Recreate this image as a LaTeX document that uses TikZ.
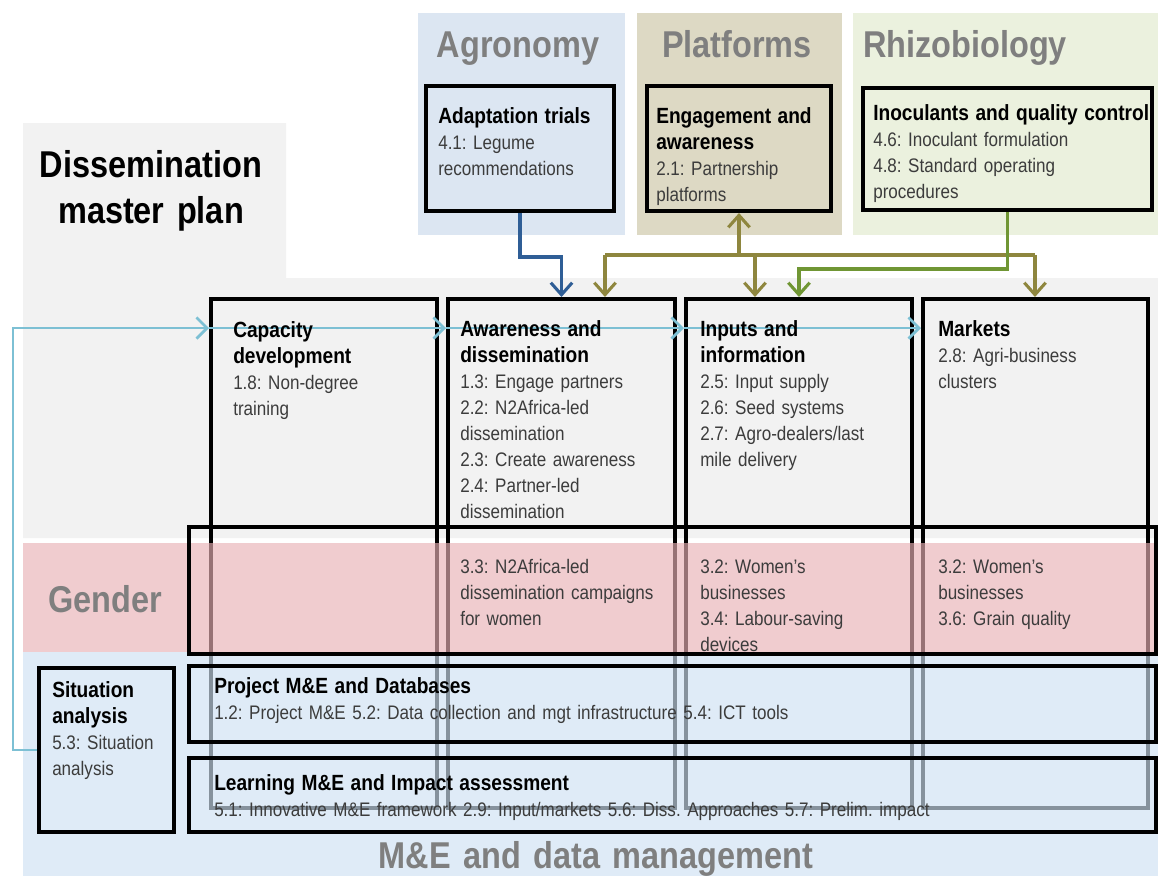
\documentclass[tikz,border=0pt]{standalone}
\usepackage{fontspec}
\setmainfont{Liberation Sans}[FakeStretch=0.87]
\usepackage{xcolor}
\usepackage{tikz}
\usetikzlibrary{arrows.meta}
\usetikzlibrary{fit}
\frenchspacing

\definecolor{planGray}{RGB}{242,242,242}
\definecolor{agroBlue}{RGB}{220,230,242}
\definecolor{platTan}{RGB}{221,217,196}
\definecolor{rhizoGreen}{RGB}{235,241,222}
\definecolor{genderPink}{RGB}{232,176,181}
\definecolor{meBlue}{RGB}{206,225,242}
\definecolor{loopBlue}{RGB}{125,192,212}
\definecolor{agroArrow}{RGB}{47,94,150}
\definecolor{platArrow}{RGB}{142,134,62}
\definecolor{rhizoArrow}{RGB}{112,150,52}
\definecolor{titleGray}{RGB}{127,127,127}
\definecolor{bodyGray}{RGB}{60,60,60}

\newcommand{\hd}[1]{{\fontsize{16.5}{19.5}\selectfont\bfseries\color{black}#1}}

\begin{document}
\begin{tikzpicture}[x=0.75pt, y=-0.75pt,
    box/.style={draw=black, line width=3pt, inner sep=0pt},
    title/.style={text=titleGray, font=\fontsize{28}{34.5}\selectfont\bfseries,
      inner sep=0pt, text width=400pt, align=center, anchor=base},
    txt/.style={text=bodyGray, font=\fontsize{14.7}{19.5}\selectfont,
      inner sep=0pt, text width=300pt, align=left, anchor=base west},
    wide/.style={text width=700pt},
    tip/.style={Straight Barb[length=9pt,width=16pt]},
    agroArr/.style={draw=agroArrow, line width=2.3pt, -{Straight Barb[length=9pt,width=16pt]}},
    platArr/.style={draw=platArrow, line width=2.3pt},
    rhizoArr/.style={draw=rhizoArrow, line width=2.3pt, -{Straight Barb[length=9pt,width=16pt]}},
    loopArr/.style={draw=loopBlue, line width=2pt, -{Straight Barb[length=8pt,width=16pt]}}]
  \useasboundingbox (0,0) rectangle (1158,876);

  % backgrounds
  \fill[planGray] (23,123) -- (286,123) -- (286,278) -- (1158,278) -- (1158,538) -- (23,538) -- cycle;
  \fill[agroBlue] (418,13) rectangle (625,235);
  \fill[platTan] (637,13) rectangle (842,235);
  \fill[rhizoGreen] (853,13) rectangle (1158,235);

  % top boxes
  \node[box, fit={(426,86) (614,211)}] (adapt) {};
  \node[box, fit={(647,86) (831,211)}] (engage) {};
  \node[box, fit={(863,88) (1152,210)}] (inoc) {};

  % columns
  \node[box, fit={(211,299) (437,808)}] (cap) {};
  \node[box, fit={(448,299) (675,808)}] (aware) {};
  \node[box, fit={(686,299) (912,808)}] (inputs) {};
  \node[box, fit={(923,299) (1148,808)}] (markets) {};

  % links from the top
  \coordinate (platL) at (605,255);
  \coordinate (platM) at (755,255);
  \coordinate (platR) at (1035,255);
  \draw[agroArr] (adapt.south) -- ++(0,44) -| (aware.north);
  \draw[platArr] (platL) -- (platR);
  \draw[platArr, {Straight Barb[length=9pt,width=16pt]}-] (engage.south) -- (engage.south |- platL);
  \draw[platArr, -{Straight Barb[length=9pt,width=16pt]}] (platL) -- (platL |- aware.north);
  \draw[platArr, -{Straight Barb[length=9pt,width=16pt]}] (platM) -- (platM |- inputs.north);
  \draw[platArr, -{Straight Barb[length=9pt,width=16pt]}] (platR) -- (platR |- markets.north);
  \draw[rhizoArr] (inoc.south) -- ++(0,57) -| (inputs.north);

  % bands
  \fill[genderPink, fill opacity=0.65] (23,543) rectangle (1158,652);
  \fill[meBlue, fill opacity=0.65] (23,652) rectangle (1158,876);

  \node[box, fit={(189,527) (1156,654)}] (gbox) {};
  \node[box, fit={(189,666) (1156,742)}] (proj) {};
  \node[box, fit={(189,758) (1156,832)}] (learn) {};
  \node[box, fit={(39,668) (174,832)}] (sit) {};

  % feedback loop
  \coordinate (loopTop) at (13,328);
  \draw[loopArr] (sit.west) -| (loopTop) -- (loopTop -| cap.west);
  \draw[loopArr] (loopTop -| cap.west) -- (loopTop -| aware.west);
  \draw[loopArr] (loopTop -| aware.west) -- (loopTop -| inputs.west);
  \draw[loopArr] (loopTop -| inputs.west) -- (loopTop -| markets.west);

  % titles
  \node[title, text=black] (planT) at (151,177) {Dissemination\\master plan};
  \node[title] (agroT) at (518,57) {Agronomy};
  \node[title] (platT) at (737,57) {Platforms};
  \node[title] (rhizoT) at (965,57) {Rhizobiology};
  \node[title] (genderT) at (105,612) {Gender};
  \node[title] (meT) at (596,868) {M\&E and data management};

  % texts
  \node[txt] (adaptT) at (438,123) {\hd{Adaptation trials}\\4.1: Legume\\recommendations};
  \node[txt] (engageT) at (656,123) {\hd{Engagement and}\\\hd{awareness}\\2.1: Partnership\\platforms};
  \node[txt] (inocT) at (873,120) {\hd{Inoculants and quality control}\\4.6: Inoculant formulation\\4.8: Standard operating\\procedures};

  \node[txt] (capT) at (233,337) {\hd{Capacity}\\\hd{development}\\1.8: Non-degree\\training};
  \node[txt] (awareT) at (460,336) {\hd{Awareness and}\\\hd{dissemination}\\1.3: Engage partners\\2.2: N2Africa-led\\dissemination\\2.3: Create awareness\\2.4: Partner-led\\dissemination};
  \node[txt] (inputsT) at (700,336) {\hd{Inputs and}\\\hd{information}\\2.5: Input supply\\2.6: Seed systems\\2.7: Agro-dealers/last\\mile delivery};
  \node[txt] (marketsT) at (938,336) {\hd{Markets}\\2.8: Agri-business\\clusters};

  \node[txt] (gAwareT) at (460,573) {3.3: N2Africa-led\\dissemination campaigns\\for women};
  \node[txt] (gInputsT) at (700,573) {3.2: Women’s\\businesses\\3.4: Labour-saving\\devices};
  \node[txt] (gMarketsT) at (938,573) {3.2: Women’s\\businesses\\3.6: Grain quality};

  \node[txt] (sitT) at (52,697) {\hd{Situation}\\\hd{analysis}\\5.3: Situation\\analysis};
  \node[txt, wide] (projT) at (214,693) {\hd{Project M\&E and Databases}\\1.2: Project M\&E 5.2: Data collection and mgt infrastructure 5.4: ICT tools};
  \node[txt, wide] (learnT) at (214,790) {\hd{Learning M\&E and Impact assessment}\\5.1: Innovative M\&E framework 2.9: Input/markets 5.6: Diss. Approaches 5.7: Prelim. impact};
\end{tikzpicture}
\end{document}
